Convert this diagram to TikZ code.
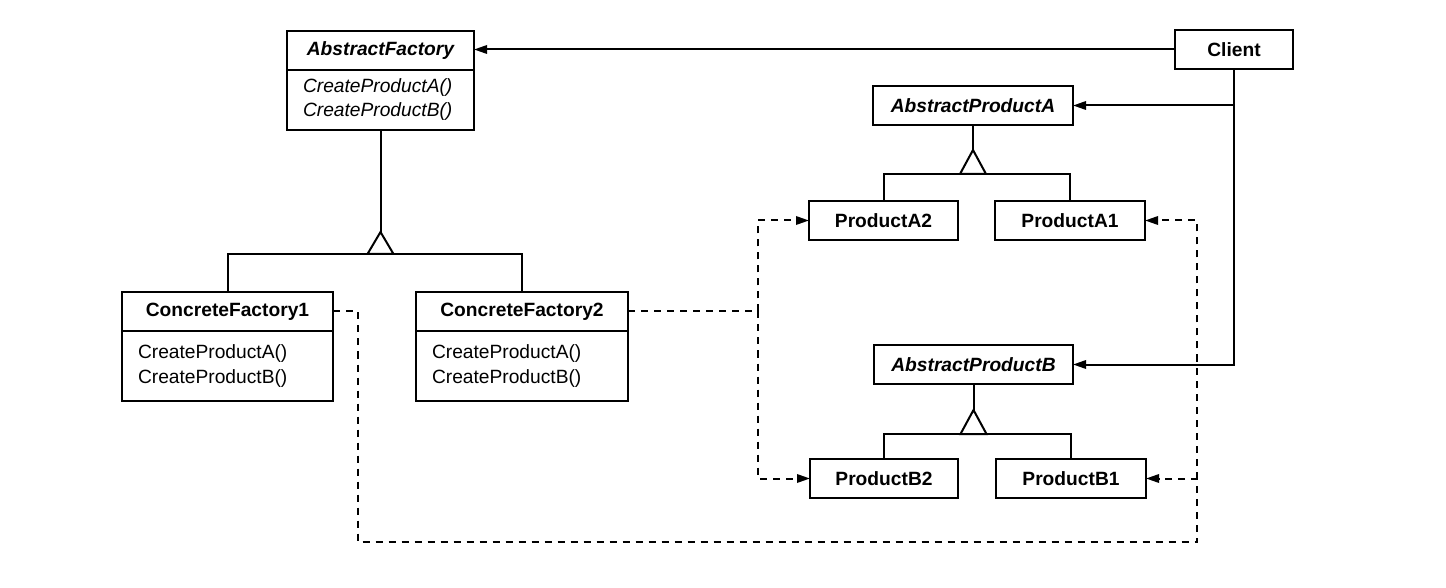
\documentclass[tikz,border=0pt]{standalone}
\usepackage{fontspec}
\setmainfont{Liberation Sans}
\usetikzlibrary{arrows.meta}

\begin{document}
\begin{tikzpicture}[x=0.5pt,y=-0.5pt,
  >={Triangle[length=6.5pt,width=4.2pt]},
  classhead/.style={draw, line width=1pt, fill=white, inner sep=0pt, outer sep=0pt,
    anchor=north west, minimum height=19.5pt,
    font=\fontsize{9.6}{12}\selectfont\bfseries},
  abstracthead/.style={classhead, font=\fontsize{9.6}{12}\selectfont\bfseries\itshape},
  opsbox/.style={draw, line width=1pt, fill=white, anchor=north west, outer sep=0pt,
    inner xsep=8pt, inner ysep=0pt, align=left,
    font=\fontsize{9.6}{12.3}\selectfont},
  assoc/.style={line width=1pt},
  depend/.style={line width=1pt, dash pattern=on 3.5pt off 3pt},
  inherit/.style={line width=1pt, line join=miter}
]
\useasboundingbox (0,0) rectangle (1446,588);

% ---- factories ----
\node[abstracthead, minimum width=93.5pt] (af) at (287,31) {AbstractFactory};
\node[opsbox, minimum width=93.5pt, minimum height=30pt, text width=77.5pt,
      font=\fontsize{9.6}{12}\selectfont\itshape] (afops) at (af.south west)
      {CreateProductA()\\CreateProductB()};

\node[classhead, minimum width=105.5pt] (cf1) at (122,292) {ConcreteFactory1};
\node[opsbox, minimum width=105.5pt, minimum height=35pt, text width=89.5pt]
      (cf1ops) at (cf1.south west) {CreateProductA()\\CreateProductB()};

\node[classhead, minimum width=106pt] (cf2) at (416,292) {ConcreteFactory2};
\node[opsbox, minimum width=106pt, minimum height=35pt, text width=90pt]
      (cf2ops) at (cf2.south west) {CreateProductA()\\CreateProductB()};

% ---- client ----
\node[classhead, minimum width=59pt] (client) at (1175,30) {Client};

% ---- products ----
\node[abstracthead, minimum width=100pt] (apa) at (873,86) {AbstractProductA};
\node[classhead, minimum width=74.5pt] (pa2) at (809,201) {ProductA2};
\node[classhead, minimum width=75pt] (pa1) at (995,201) {ProductA1};

\node[abstracthead, minimum width=99.5pt] (apb) at (874,345) {AbstractProductB};
\node[classhead, minimum width=74pt] (pb2) at (810,459) {ProductB2};
\node[classhead, minimum width=75pt] (pb1) at (996,459) {ProductB1};

% levels of the inheritance trees
\coordinate (apexF) at (0,232);
\coordinate (barF) at (0,254);
\coordinate (apexA) at (0,150);
\coordinate (barA) at (0,174);
\coordinate (apexB) at (0,410);
\coordinate (barB) at (0,434);
% vertical runs of the dashed "creates" lines
\coordinate (runL) at (758,0);
\coordinate (runR) at (1197,0);
\coordinate (runC) at (358,0);
\coordinate (bottom) at (0,542);

% ---- inheritance: factories ----
\draw[assoc] (afops.south) -- (afops.south |- apexF);
\draw[inherit] (afops.south |- apexF) -- ++(-13,22) -- ++(26,0) -- cycle;
\draw[assoc] (cf1.north) |- (cf2.north |- barF) -- (cf2.north);

% ---- inheritance: product A ----
\draw[assoc] (apa.south) -- (apa.south |- apexA);
\draw[inherit] (apa.south |- apexA) -- ++(-13,24) -- ++(26,0) -- cycle;
\draw[assoc] (pa2.north) |- (pa1.north |- barA) -- (pa1.north);

% ---- inheritance: product B ----
\draw[assoc] (apb.south) -- (apb.south |- apexB);
\draw[inherit] (apb.south |- apexB) -- ++(-13,24) -- ++(26,0) -- cycle;
\draw[assoc] (pb2.north) |- (pb1.north |- barB) -- (pb1.north);

% ---- client associations ----
\draw[assoc,->] (client.west) -- (client.west -| af.east);
\draw[assoc,->] (client.south) |- (apb.east);
\draw[assoc,->] (client.south |- apa.east) -- (apa.east);

% ---- ConcreteFactory2 creates A2 and B2 ----
\draw[depend,->] (cf2.east) -| (runL |- pa2.west) -- (pa2.west);
\draw[depend,->] (cf2.east -| runL) |- (pb2.west);

% ---- ConcreteFactory1 creates A1 and B1 ----
\draw[depend,->] (cf1.east) -| (runC |- bottom) -| (runR |- pb1.east) -- (pb1.east);
\draw[depend,->] (runR |- pb1.east) |- (pa1.east);
\end{tikzpicture}
\end{document}
